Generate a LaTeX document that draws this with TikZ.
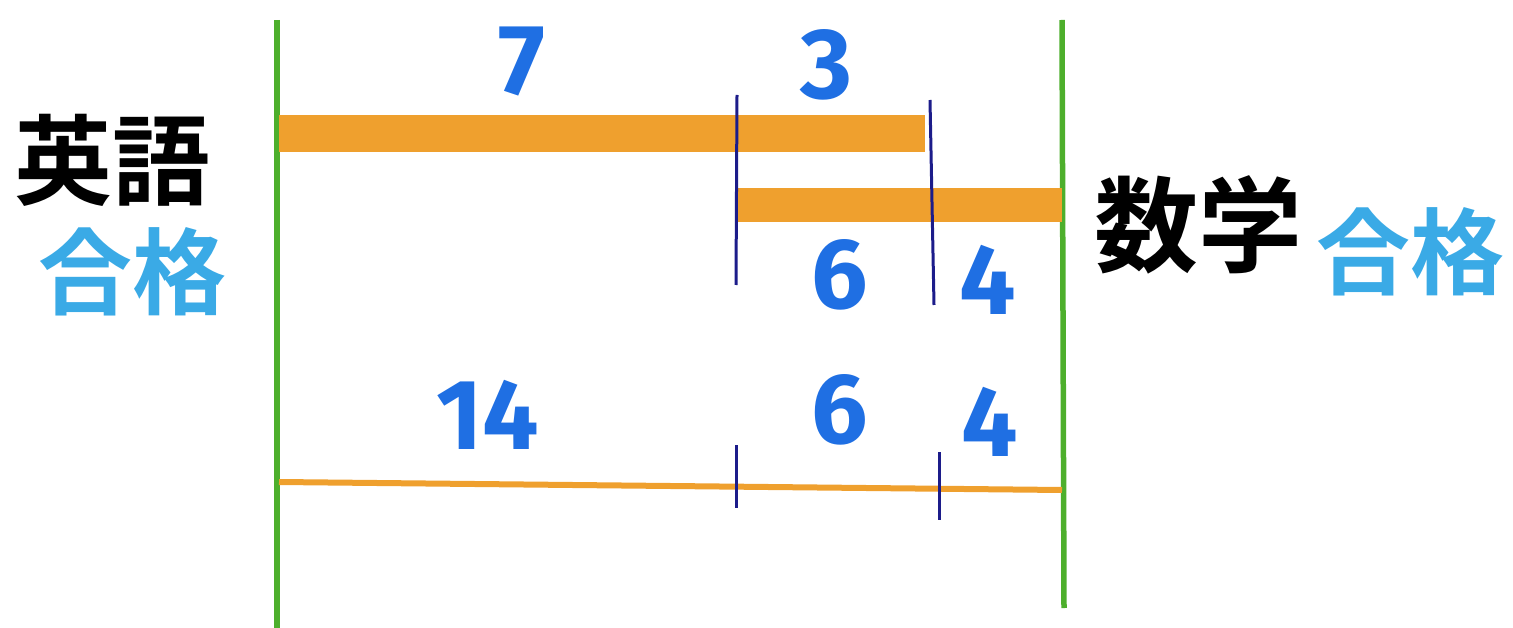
\documentclass[tikz,border=0pt]{standalone}
\usepackage{fontspec}
\newfontfamily\cjk{Noto Sans CJK JP}[BoldFont={* Bold}]
\setmainfont{Fira Sans}
\definecolor{barorange}{HTML}{EFA02E}
\definecolor{linegreen}{HTML}{4DAF2C}
\definecolor{numblue}{HTML}{1F6FE3}
\definecolor{tickblue}{HTML}{1C1C8A}
\definecolor{passblue}{HTML}{3AAAE6}
\begin{document}
\begin{tikzpicture}[x=1pt,y=-1pt,
  frame/.style={draw=linegreen,line width=5.5pt},
  bar/.style={fill=barorange,draw=none},
  tick/.style={draw=tickblue,line width=3pt},
  num/.style={text=numblue,font=\bfseries\fontsize{100}{100}\selectfont,inner sep=0pt},
  subj/.style={text=black,font=\cjk\bfseries\fontsize{98}{98}\selectfont,inner sep=0pt},
  pass/.style={text=passblue,font=\cjk\bfseries\fontsize{94}{94}\selectfont,inner sep=0pt}]
\useasboundingbox (0,0) rectangle (1513,628);
% frame lines
\coordinate (lt) at (277,20); \coordinate (lb) at (277,628);
\coordinate (rt) at (1062,20); \coordinate (rb) at (1064,608);
\draw[frame] (lt) -- (lb);
\draw[frame] (rt) -- (rb);
% bars
\path[bar] (279,115) rectangle (925,152);
\path[bar] (735,188) rectangle (1062,222);
% dividers
\coordinate (d1t) at (737,95); \coordinate (d1b) at (736,285);
\coordinate (d2t) at (930,100); \coordinate (d2b) at (934,305);
\draw[tick] (d1t) -- (d1b);
\draw[tick] (d2t) -- (d2b);
% bottom line
\coordinate (bl) at (279,482); \coordinate (br) at (1062,490);
\draw[draw=barorange,line width=6pt] (bl) -- (br);
\coordinate (t1t) at (736,445); \coordinate (t1b) at (736,508);
\coordinate (t2t) at (939,452); \coordinate (t2b) at (939,520);
\draw[tick] (t1t) -- (t1b);
\draw[tick] (t2t) -- (t2b);
% numbers
\node[num] (n7) at (522,62) {7};
\node[num] (n3) at (826,65) {3};
\node[num] (n6a) at (840,275) {6};
\node[num] (n4a) at (988,280) {4};
\node[num] (n14) at (488,415) {14};
\node[num] (n6b) at (840,410) {6};
\node[num] (n4b) at (990,422) {4};
% labels
\node[subj] (eng) at (112,160) {英語};
\node[pass] (engp) at (132,272) {合格};
\node[subj,font=\cjk\bfseries\fontsize{104}{104}\selectfont] (math) at (1198,225) {数学};
\node[pass] (mathp) at (1410,252) {合格};
\end{tikzpicture}
\end{document}
